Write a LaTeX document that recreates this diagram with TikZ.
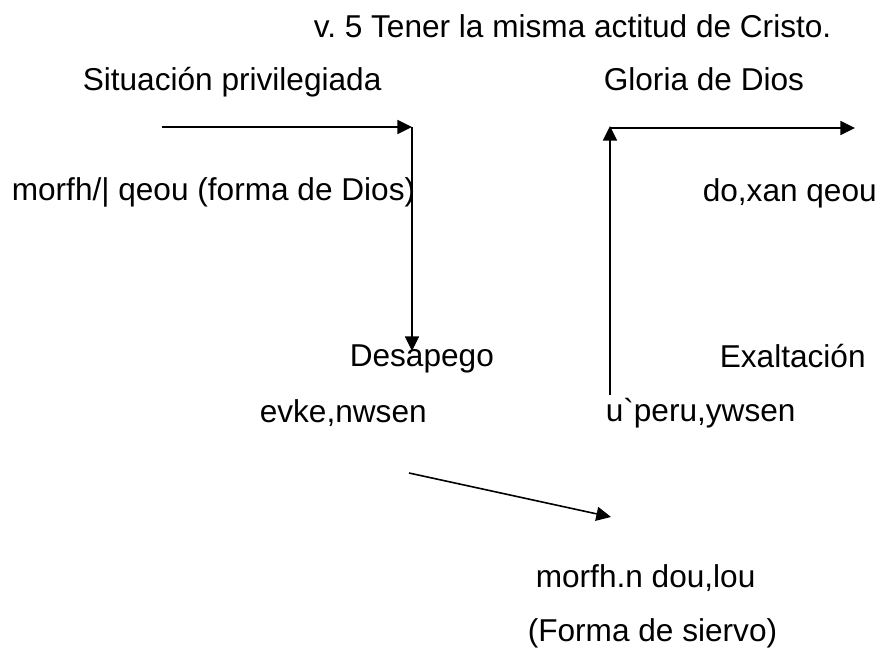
\documentclass[tikz,border=0pt]{standalone}
\usepackage{fontspec}
\setmainfont{Liberation Sans}
\usetikzlibrary{arrows.meta}
\frenchspacing

\tikzset{every picture/.style={line width=1.2pt}}
\tikzset{lbl/.style={inner sep=0pt, anchor=base west, font=\fontsize{23.7}{28}\selectfont},
	flecha/.style={-{Triangle[length=11pt,width=10.5pt]}}}

\begin{document}
\begin{tikzpicture}[x=0.75pt,y=0.75pt,yscale=-1,xscale=1]
	\useasboundingbox (0,0) rectangle (878,649);

	% Text Node
	\node [lbl] (titulo) at (313,38) {v. 5 Tener la misma actitud de Cristo.};
	% Text Node
	\node [lbl] (situacion) at (82,91) {Situación privilegiada};
	% Text Node
	\node [lbl] (gloria) at (603,91) {Gloria de Dios};
	% Text Node
	\node [lbl] (morfhqeou) at (11,200) {morfh/| qeou (forma de Dios)};
	% Text Node
	\node [lbl] (doxan) at (702,201) {do,xan qeou};
	% Text Node
	\node [lbl] (desapego) at (349,366) {Desapego};
	% Text Node
	\node [lbl] (exaltacion) at (719,367) {Exaltación};
	% Text Node
	\node [lbl] (ekenwsen) at (259,422) {evke,nwsen};
	% Text Node
	\node [lbl] (uperuywsen) at (605,421) {u\textasciigrave peru,ywsen};
	% Text Node
	\node [lbl] (morfhn) at (535,587) {morfh.n dou,lou};
	% Text Node
	\node [lbl] (siervo) at (527,641) {(Forma de siervo)};

	% arrow ends
	\coordinate (izqA) at (162,127);
	\coordinate (izqB) at (412,127);
	\coordinate (izqC) at (412,351);
	\coordinate (derA) at (610,395);
	\coordinate (derB) at (610,126);
	\coordinate (derC) at (855,128);
	\coordinate (diagA) at (409,473);
	\coordinate (diagB) at (611,517);

	%Straight Lines
	\draw [flecha] (izqA) -- (izqB) ;
	%Straight Lines
	\draw [flecha] (izqB) -- (izqC) ;
	%Straight Lines
	\draw [flecha] (derA) -- (derB) ;
	%Straight Lines
	\draw [flecha] (derB |- derC) -- (derC) ;
	%Straight Lines
	\draw [flecha] (diagA) -- (diagB) ;

\end{tikzpicture}
\end{document}
